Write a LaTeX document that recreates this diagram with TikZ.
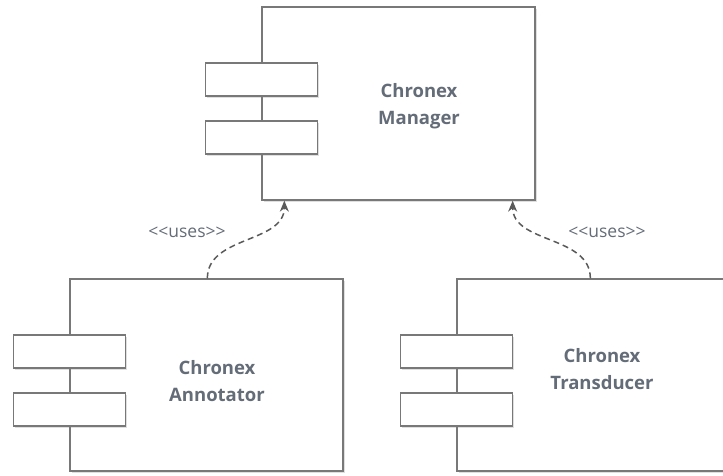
\documentclass[tikz,border=0pt]{standalone}
\usepackage{fontspec}
\setmainfont{Open Sans}
\usetikzlibrary{positioning, arrows.meta, shadows, calc}

\definecolor{boxline}{RGB}{120,120,120}
\definecolor{labeltext}{RGB}{100,108,120}
\definecolor{arrowline}{RGB}{90,90,90}

\tikzset{
  component/.style={draw=boxline, line width=1.3pt, fill=white, rectangle,
    drop shadow={shadow xshift=2pt, shadow yshift=-2pt, opacity=0.25}},
  port/.style={draw=boxline, line width=1.3pt, fill=white, rectangle,
    minimum width=112pt, minimum height=33pt,
    drop shadow={shadow xshift=2pt, shadow yshift=-2pt, opacity=0.25}},
  compname/.style={font=\fontsize{18.5}{27}\selectfont\bfseries, text=labeltext, align=center},
  uses/.style={font=\fontsize{17.5}{19}\selectfont, text=labeltext},
  usesarrow/.style={draw=arrowline, line width=1.5pt, dash pattern=on 6pt off 4pt,
    -{Stealth[length=11pt,width=9pt]}}
}

\begin{document}
\begin{tikzpicture}[x=1pt,y=-1pt]
\useasboundingbox (0,0) rectangle (723,475);

% components
\node[component, minimum width=273pt, minimum height=193pt] (manager) at (398.5,103.5) {};
\node[component, minimum width=273pt, minimum height=192pt] (annotator) at (206.5,375) {};
\node[component, minimum width=278pt, minimum height=192pt] (transducer) at (596,375) {};

% ports on the left edge
\foreach \c in {manager, annotator, transducer} {
  \node[port] (\c-p1) at ([yshift=-73pt]\c.north west) {};
  \node[port] (\c-p2) at ([yshift=-131pt]\c.north west) {};
}

% names
\node[compname] (manager-name) at (419,106) {Chronex\\Manager};
\node[compname] (annotator-name) at (217,381) {Chronex\\Annotator};
\node[compname] (transducer-name) at (602,369.5) {Chronex\\Transducer};

% dependencies
\coordinate (annotator-out) at ([xshift=138pt]annotator.north west);
\coordinate (manager-in1) at ([xshift=23pt]manager.south west);
\coordinate (transducer-out) at ([xshift=134pt]transducer.north west);
\coordinate (manager-in2) at ([xshift=-23pt]manager.south east);

\draw[usesarrow] (annotator-out) to[out=90, in=-90] (manager-in1);
\draw[usesarrow] (transducer-out) to[out=90, in=-90] (manager-in2);

\node[uses] (uses1) at (187,232) {<\kern0pt<uses>\kern0pt>};
\node[uses] (uses2) at (607,232) {<\kern0pt<uses>\kern0pt>};
\end{tikzpicture}
\end{document}
